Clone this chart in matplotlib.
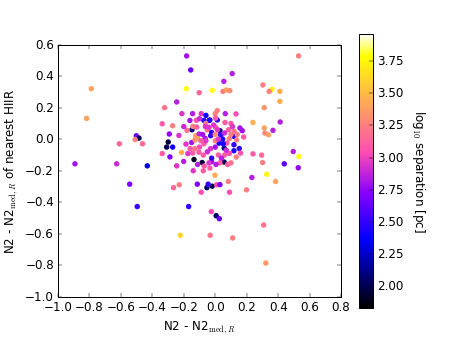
import numpy as np
import matplotlib
matplotlib.use('Agg')
import matplotlib.pyplot as plt

plt.style.use('classic')

# offsets of N2 from radial median, and from nearest HII region, colour = log10 separation
dn2 = [-0.182, -0.156, -0.184, -0.102, -0.788, -0.818, -0.245, -0.322, -0.212, -0.144,
       -0.089, -0.059, -0.161, -0.072, -0.038, -0.337, -0.271, -0.118, -0.148, -0.180,
       -0.051, -0.292, -0.231, -0.125, -0.102, -0.502, -0.485, -0.509, -0.462, -0.610,
       -0.299, -0.309, -0.271, -0.150, -0.129, -0.186, -0.064, -0.337, -0.214, -0.174,
       -0.288, -0.135, -0.083, -0.245, -0.201, -0.892, -0.627, -0.432, -0.544, -0.496,
       -0.140, -0.076, -0.112, -0.265, -0.229, -0.114, -0.053, -0.089, -0.169, -0.222,
       0.301, 0.439, 0.528, 0.327, 0.384, 0.233, 0.199, 0.091, 0.083, -0.002,
       -0.034, -0.023, 0.057, 0.079, 0.030, -0.019, -0.045, 0.009, 0.030, -0.025,
       0.006, 0.026, -0.032, 0.111, 0.308, 0.322, 0.530, 0.108, 0.055, -0.019,
       0.049, 0.070, 0.093, 0.303, 0.358, 0.360, 0.343, 0.411, 0.411, 0.312,
       0.240, 0.413, 0.312, 0.316, 0.339, 0.367, 0.132, 0.064, 0.013, 0.000,
       -0.034, 0.013, 0.002, 0.062, 0.157, 0.172, 0.030, 0.041, -0.029, 0.047,
       0.121, 0.181, 0.136, 0.089, 0.024, 0.074, 0.119, 0.153, 0.119, 0.161,
       0.057, -0.023, 0.134, 0.295, 0.496, 0.532, 0.240, -0.142, -0.112, -0.144,
       -0.104, -0.076, -0.072, 0.051, -0.040, 0.002, -0.023, 0.034, 0.015, 0.085,
       0.100, -0.080, -0.060, -0.030, 0.000, 0.020, 0.060, 0.040, -0.050, 0.090,
       0.000, -0.100, -0.200, -0.060, 0.100, 0.120, -0.010, 0.070, -0.070, 0.005,
       0.100, -0.130, 0.000, -0.120, -0.100, -0.063, 0.020, -0.090, 0.060, -0.040,
       0.110, -0.160, 0.140]
dn2_hii = [0.528, 0.439, 0.320, 0.295, 0.320, 0.132, 0.236, 0.200, 0.162, 0.162,
           0.162, 0.151, 0.119, 0.119, 0.119, 0.098, 0.085, 0.077, 0.060, 0.056,
           0.060, 0.033, 0.024, 0.022, 0.033, 0.022, 0.007, -0.002, -0.029, -0.029,
           -0.018, -0.050, -0.050, -0.021, -0.004, -0.031, 0.005, -0.091, -0.084, -0.091,
           -0.112, -0.129, -0.148, -0.169, -0.141, -0.156, -0.156, -0.169, -0.285, -0.427,
           -0.200, -0.200, -0.160, -0.307, -0.289, -0.285, -0.307, -0.336, -0.427, -0.609,
           -0.148, -0.156, -0.181, -0.222, -0.268, -0.243, -0.321, -0.336, -0.268, -0.228,
           -0.183, -0.143, -0.145, -0.160, -0.150, -0.298, -0.285, -0.289, -0.288, -0.459,
           -0.485, -0.504, -0.609, -0.626, -0.544, -0.785, 0.528, 0.416, 0.367, 0.310,
           0.303, 0.312, 0.308, 0.344, 0.342, 0.316, 0.303, 0.303, 0.240, 0.200,
           0.106, 0.109, 0.071, 0.039, 0.028, 0.056, 0.160, 0.162, 0.181, 0.162,
           0.122, 0.122, 0.134, 0.106, 0.071, 0.054, 0.054, 0.028, 0.022, 0.001,
           0.017, 0.014, -0.004, 0.003, -0.025, -0.025, -0.035, -0.059, -0.073, -0.088,
           -0.057, -0.120, -0.113, -0.101, -0.078, -0.110, -0.093, 0.081, 0.004, -0.088,
           -0.082, -0.101, -0.029, -0.029, 0.075, 0.075, 0.043, 0.028, 0.060, 0.060,
           0.030, 0.030, -0.010, -0.060, -0.050, -0.100, -0.100, -0.120, -0.080, -0.090,
           -0.010, -0.050, 0.080, 0.100, 0.100, 0.050, 0.090, -0.070, -0.170, -0.160,
           -0.150, -0.060, 0.030, 0.120, 0.130, 0.081, 0.000, -0.010, 0.040, -0.150,
           0.080, -0.060, 0.030]
log_sep = [2.80, 2.65, 3.80, 3.15, 3.40, 3.40, 2.85, 3.20, 2.95, 2.85,
           2.95, 2.40, 2.80, 2.45, 2.45, 3.10, 3.25, 3.10, 2.10, 3.20,
           3.20, 2.75, 2.95, 3.40, 2.85, 2.65, 2.05, 3.25, 3.15, 3.15,
           1.95, 2.00, 2.40, 2.80, 3.30, 2.95, 2.80, 3.10, 3.45, 2.95,
           2.70, 1.90, 1.95, 2.95, 2.85, 2.80, 2.90, 2.30, 2.70, 2.50,
           2.95, 3.10, 2.85, 3.15, 3.25, 2.70, 2.05, 3.05, 2.50, 3.60,
           3.25, 2.60, 2.75, 3.75, 3.40, 2.85, 3.25, 3.05, 3.25, 3.45,
           3.10, 2.80, 2.00, 3.10, 3.10, 2.00, 2.50, 3.05, 2.70, 3.05,
           2.05, 2.65, 3.20, 3.25, 3.20, 3.35, 3.25, 2.85, 2.85, 3.80,
           3.25, 3.40, 3.30, 3.25, 3.96, 3.75, 3.25, 3.45, 3.45, 3.35,
           3.45, 2.85, 3.40, 3.30, 3.40, 2.85, 3.05, 2.85, 3.25, 3.25,
           2.45, 2.45, 3.10, 3.10, 2.80, 2.80, 2.10, 3.40, 2.50, 2.45,
           2.45, 3.10, 3.25, 3.25, 2.40, 3.10, 2.50, 2.50, 2.45, 3.05,
           2.10, 2.50, 3.25, 3.15, 2.85, 3.80, 3.10, 3.25, 3.40, 3.10,
           3.10, 3.10, 3.10, 2.45, 2.95, 3.10, 2.50, 2.50, 2.95, 3.10,
           3.25, 2.80, 2.95, 2.95, 2.80, 3.10, 3.10, 2.85, 2.90, 3.05,
           3.25, 3.05, 2.90, 3.25, 3.10, 3.20, 2.95, 2.90, 3.10, 2.85,
           3.20, 3.20, 3.30, 3.05, 2.90, 2.95, 2.95, 3.10, 2.90, 2.95,
           2.95, 3.10, 3.25]

fig = plt.figure(figsize=(6.4, 4.8))
ax = fig.add_axes([0.1266, 0.1341, 0.618, 0.7347])
cax = fig.add_axes([0.7838, 0.1012, 0.0299, 0.7988])

sc = ax.scatter(dn2, dn2_hii, c=log_sep, cmap='gnuplot2', vmin=1.83, vmax=3.96,
                s=30, edgecolors='none')
ax.set_xlim(-1.0, 0.8)
ax.set_ylim(-1.0, 0.6)
ax.set_xticks(np.arange(-1.0, 0.81, 0.2))
ax.set_yticks(np.arange(-1.0, 0.61, 0.2))
ax.set_xlabel(r'N2 - N2$_{\rm med,\it R}$')
ax.set_ylabel(r'N2 - N2$_{\rm med,\it R}$ of nearest HIIR')

cb = fig.colorbar(sc, cax=cax, ticks=np.arange(2.0, 3.80, 0.25), format='%.2f')
cb.set_label(r'log$_{10}$ separation [pc]', rotation=270, labelpad=24)

fig.savefig('out.png', dpi=458 / 6.4)
